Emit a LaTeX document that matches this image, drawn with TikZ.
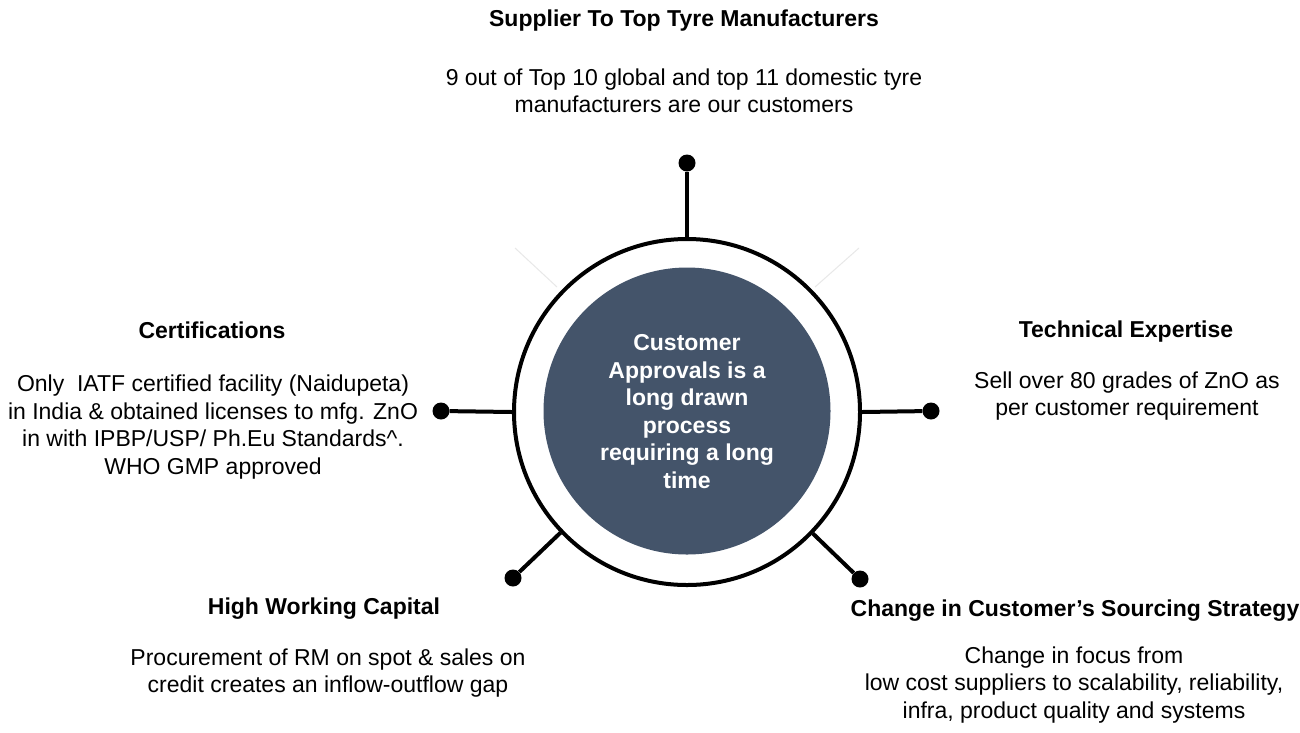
\documentclass[tikz,border=0pt]{standalone}
\usepackage{fontspec}
\setmainfont{Liberation Sans}
\definecolor{coreblue}{RGB}{68,84,106}
\definecolor{faint}{RGB}{232,232,232}
\begin{document}
\begin{tikzpicture}[x=1pt,y=-1pt,
  txt/.style={align=center, inner sep=0pt, font=\fontsize{23}{27.5}\selectfont},
  ttl/.style={align=center, inner sep=0pt, font=\fontsize{23}{27.5}\selectfont\bfseries},
  dot/.style={circle, fill=black, inner sep=0pt, minimum size=17pt},
  spoke/.style={line width=4pt}]
\useasboundingbox (0,0) rectangle (1300,732);
\fill[white] (0,0) rectangle (1300,732);

% faint decorative lines
\coordinate (fa1) at (515,248);
\coordinate (fa2) at (557,287);
\coordinate (fb1) at (859,248);
\coordinate (fb2) at (815,287);
\draw[faint, line width=1pt] (fa1) -- (fa2);
\draw[faint, line width=1pt] (fb1) -- (fb2);

% central ring and core
\node[circle, draw=black, line width=4pt, fill=white, minimum size=346pt, inner sep=0pt] (ring) at (687,412) {};
\node[circle, fill=coreblue, minimum size=287pt, inner sep=0pt] (core) at (687,411) {};
\node[ttl, text=white] (coretext) at (687,411.5) {Customer\\Approvals is a\\long drawn\\process\\requiring a long\\time};

% dots
\node[dot] (dtop) at (687,163) {};
\node[dot] (dleft) at (441,411) {};
\node[dot] (dright) at (931,411) {};
\node[dot] (dll) at (513,578) {};
\node[dot] (dlr) at (860,579) {};

% spokes
\draw[spoke] (ring.north) -- (dtop);
\draw[spoke] (ring.west) -- (dleft);
\draw[spoke] (ring.east) -- (dright);
\draw[spoke] (ring) -- (dll);
\draw[spoke] (ring) -- (dlr);

% top
\node[ttl] (t1) at (684,21) {Supplier To Top Tyre Manufacturers};
\node[txt] (b1) at (684,91) {9 out of Top 10 global and top 11 domestic tyre\\manufacturers are our customers};

% left
\node[ttl] (t2) at (212,330) {Certifications};
\node[txt] (b2) at (213,427) {Only\ \ IATF certified facility (Naidupeta)\\in India \& obtained licenses to mfg. ZnO\\in with IPBP/USP/ Ph.Eu Standards\^{}.\\WHO GMP approved};

% right
\node[ttl] (t3) at (1126,332) {Technical Expertise};
\node[txt] (b3) at (1127,396) {Sell over 80 grades of ZnO as\\per customer requirement};

% lower left
\node[ttl] (t4) at (324,609) {High Working Capital};
\node[txt] (b4) at (328,673) {Procurement of RM on spot \& sales on\\credit creates an inflow-outflow gap};

% lower right
\node[ttl] (t5) at (1075,611) {Change in Customer’s Sourcing Strategy};
\node[txt] (b5) at (1074,685) {Change in focus from\\low cost suppliers to scalability, reliability,\\infra, product quality and systems};
\end{tikzpicture}
\end{document}
